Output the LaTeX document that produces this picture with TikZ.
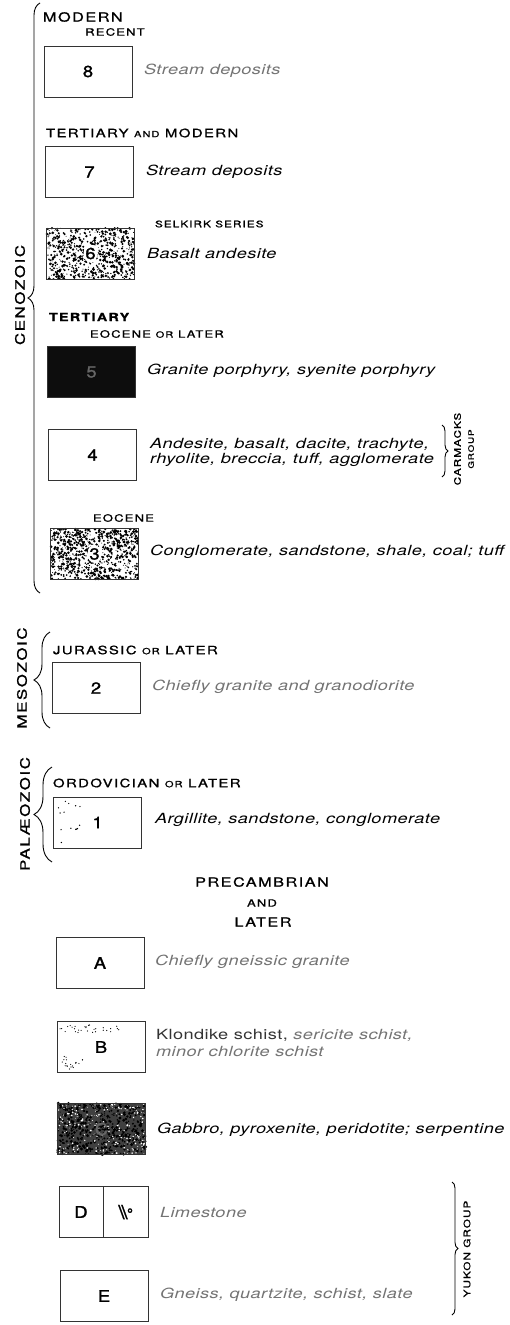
\documentclass[tikz,border=0pt]{standalone}
\usepackage{fontspec}
\usetikzlibrary{decorations.pathreplacing}
\newfontfamily\legfont[FakeStretch=1.3,LetterSpace=3]{TeX Gyre Heros}
\newfontfamily\capfont[FakeStretch=1.3,LetterSpace=12,FakeBold=1.2]{TeX Gyre Heros}
\newfontfamily\numfont[FakeStretch=1.15,FakeBold=1.5]{TeX Gyre Heros}
\newcommand\lowcap[1]{{\fontsize{8.5}{8.5}\selectfont #1}}

\begin{document}
\begin{tikzpicture}[x=1pt,y=-1pt,
    every node/.append style={inner sep=0pt,outer sep=0pt},
    unit/.style={draw=black!80,line width=0.8pt,minimum width=88,minimum height=51,
                 font=\numfont\fontsize{16}{16}\selectfont},
    desc/.style={anchor=west,align=left,font=\legfont\itshape\fontsize{14}{15}\selectfont},
    faint/.style={desc,text=black!55},
    age/.style={anchor=west,font=\capfont\fontsize{11.5}{11.5}\selectfont},
    sub/.style={anchor=west,font=\capfont\fontsize{10}{10}\selectfont},
    era/.style={rotate=90,font=\capfont\fontsize{13}{13}\selectfont},
    grp/.style={rotate=90,align=center,font=\capfont\fontsize{9}{13}\selectfont},
    brc/.style={decorate,decoration={brace,amplitude=#1},line width=0.9pt}]
  \useasboundingbox (0,0) rectangle (509,1325);
  \pgfmathsetseed{17}
  % speckled fills
  \foreach \i in {1,...,650}
    \fill (47+87*rnd, 228+51*rnd) circle ({0.4+1.1*rnd});
  \foreach \i in {1,...,800}
    \fill (51+87*rnd, 529+50*rnd) circle ({0.4+1.1*rnd});
  \fill[black!75] (57,1103) rectangle (146,1155);
  \foreach \i in {1,...,500}
    \fill (57+89*rnd, 1103+52*rnd) circle ({0.5+1.2*rnd});
  \foreach \i in {1,...,260}
    \fill[white] (57+89*rnd, 1103+52*rnd) circle ({0.3+0.7*rnd});
  \foreach \i in {1,...,40}
    \fill[white] (48+87*rnd, 347+50*rnd) circle ({0.2+0.5*rnd});
  \foreach \i in {1,...,14}
    \fill (58+22*rnd, 800+45*rnd) circle (0.7);
  \foreach \i in {1,...,30}
    \fill (60+60*rnd, 1025+8*rnd) circle (0.6);
  \foreach \i in {1,...,20}
    \fill (60+30*rnd, 1055+14*rnd) circle (0.6);
  \fill[white] (90.5,253.5) ellipse (7 and 9);
  \fill[white] (94.5,554) ellipse (7 and 9);

  % eras
  \node[era] (cenozoic)  at (20,295) {CENOZOIC};
  \node[era] (mesozoic)  at (22,678) {MESOZOIC};
  \node[era] (palaeo)    at (25,814) {PALÆOZOIC};
  \coordinate (cenTop) at (40,3);    \coordinate (cenBot) at (40,593);
  \coordinate (mesTop) at (50,632);  \coordinate (mesBot) at (50,728);
  \coordinate (palTop) at (52,767);  \coordinate (palBot) at (52,862);
  \draw[brc=12] (cenBot) -- (cenTop);
  \draw[brc=16] (mesBot) -- (mesTop);
  \draw[brc=18] (palBot) -- (palTop);

  % ages
  \node[age,font=\capfont\fontsize{12.5}{12.5}\selectfont] (modern) at (43,17) {MODERN};
  \node[sub,anchor=center] (recent) at (115,32) {RECENT};
  \node[age] (tertmod)  at (46,133) {TERTIARY \lowcap{AND} MODERN};
  \node[sub,font=\capfont\fontsize{9}{9}\selectfont] (selkirk) at (155,224) {SELKIRK SERIES};
  \node[age,font=\capfont\bfseries\fontsize{11}{11}\selectfont] (tertiary) at (49,317) {TERTIARY};
  \node[sub] (eoclater) at (90,334) {EOCENE \lowcap{OR} LATER};
  \node[sub] (eocene)   at (93,518) {EOCENE};
  \node[age] (jurassic) at (53,650) {JURASSIC \lowcap{OR} LATER};
  \node[age] (ordovic)  at (53,783) {ORDOVICIAN \lowcap{OR} LATER};
  \node[age,anchor=center,font=\capfont\fontsize{12.5}{12.5}\selectfont] (precamb) at (262,882) {PRECAMBRIAN};
  \node[sub,anchor=center] (and)   at (262,903) {AND};
  \node[age,anchor=center,font=\capfont\fontsize{12.5}{12.5}\selectfont] (later) at (263,922) {LATER};

  % units
  \node[unit] (u8) at (88,71.5)   {8};
  \node[unit] (u7) at (89.5,172)  {7};
  \node[unit] (u6) at (90.5,253.5) {6};
  \node[unit,fill=black,text=black!60,fill opacity=0.95,text opacity=1] (u5) at (91.5,372) {5};
  \node[unit] (u4) at (92.5,455)  {4};
  \node[unit] (u3) at (94.5,554)  {3};
  \node[unit] (u2) at (96,688)    {2};
  \node[unit] (u1) at (97.5,822.5) {1};
  \node[unit] (uA) at (100,963)   {A};
  \node[unit] (uB) at (101,1047)  {B};
  \node[unit,text=black!60] (uC) at (101.5,1129) {C};
  \node[unit,minimum width=44] (uD) at (81,1212) {D};
  \node[unit,minimum width=45,font=\numfont\fontsize{19}{19}\selectfont] (uDs) at (125.5,1212)
    {\textbackslash\kern-3pt\textbackslash\raisebox{6pt}{\fontsize{8}{8}\selectfont o}};
  \node[unit] (uE) at (104,1296)  {E};

  % descriptions
  \node[faint] (d8) at (144,71)   {Stream deposits};
  \node[desc]  (d7) at (146,172)  {Stream deposits};
  \node[desc]  (d6) at (147,253)  {Basalt andesite};
  \node[desc]  (d5) at (147,371)  {Granite porphyry, syenite porphyry};
  \node[desc]  (d4) at (150,452)  {Andesite, basalt, dacite, trachyte,\\rhyolite, breccia, tuff, agglomerate};
  \node[desc]  (d3) at (150,552)  {Conglomerate, sandstone, shale, coal; tuff};
  \node[faint] (d2) at (152,687)  {Chiefly granite and granodiorite};
  \node[desc]  (d1) at (155,820)  {Argillite, sandstone, conglomerate};
  \node[faint] (dA) at (155,962)  {Chiefly gneissic granite};
  \node[faint,font=\legfont\itshape\fontsize{14}{17}\selectfont] (dB) at (156,1043)
    {\upshape\color{black!80}Klondike schist, \itshape\color{black!55}sericite schist,\\minor chlorite schist};
  \node[desc]  (dC) at (157,1130) {Gabbro, pyroxenite, peridotite; serpentine};
  \node[faint] (dD) at (160,1212) {Limestone};
  \node[faint] (dE) at (160,1295) {Gneiss, quartzite, schist, slate};

  % groups
  \coordinate (carTop) at (442,425);  \coordinate (carBot) at (442,477);
  \coordinate (yukTop) at (452,1182); \coordinate (yukBot) at (452,1315);
  \draw[brc=6] (carTop) -- (carBot);
  \draw[brc=6] (yukTop) -- (yukBot);
  \node[grp] (carmacks) at (464,449) {CARMACKS\\{\fontsize{7.5}{7.5}\selectfont GROUP}};
  \node[grp] (yukon)    at (467,1249) {YUKON GROUP};
\end{tikzpicture}
\end{document}
